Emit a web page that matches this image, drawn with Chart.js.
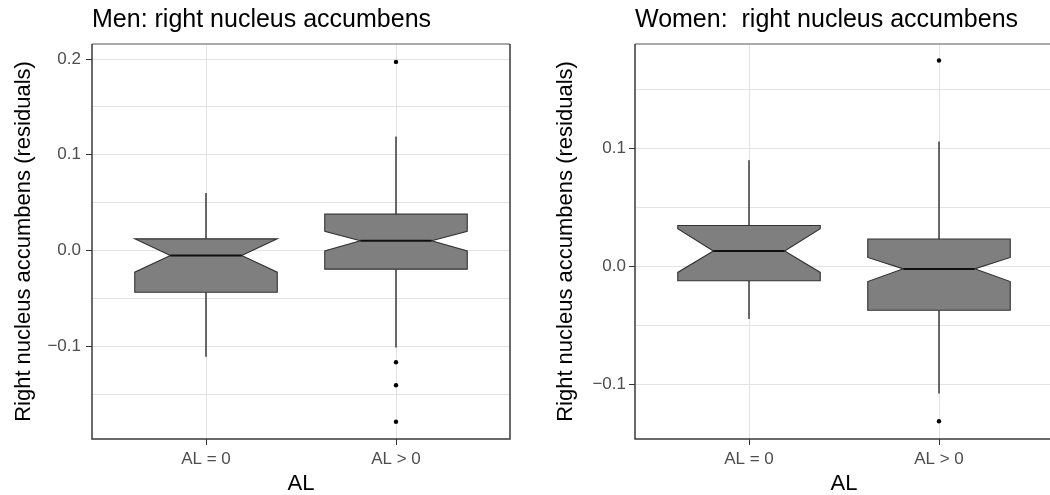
<!DOCTYPE html>
<html>
<head>
<meta charset="utf-8">
<script src="https://cdn.jsdelivr.net/npm/chart.js@4.4.0/dist/chart.umd.min.js"></script>
<style>
    html, body { margin: 0; padding: 0; background: #fff; overflow: hidden; }
    #wrap { position: relative; width: 1050px; height: 495px; overflow: hidden; }
    #chartMen { position: absolute; left: 0; top: 0; }
    #chartWomen { position: absolute; left: 525px; top: 0; }
</style>
</head>
<body>
<div id="wrap">
    <canvas id="chartMen" width="525" height="495"></canvas>
    <canvas id="chartWomen" width="560" height="495"></canvas>
</div>
<script>
const categories = ['AL = 0', 'AL > 0']
const catPos = [1, 2]

// Men
const menWhiskerLow = [-0.1108, -0.1013]
const menQ1 = [-0.0435, -0.0194]
const menNotchLow = [-0.0226, -0.0005]
const menMedian = [-0.0052, 0.0102]
const menNotchHigh = [0.0122, 0.0202]
const menQ3 = [0.0122, 0.0380]
const menWhiskerHigh = [0.0600, 0.1190]
const menOutlierCat = [2, 2, 2, 2]
const menOutliers = [0.197, -0.1167, -0.1406, -0.1788]
const menTicks = [-0.1, 0, 0.1, 0.2]
const menGrid = [-0.15, -0.1, -0.05, 0, 0.05, 0.1, 0.15, 0.2]
const menRange = [-0.1968, 0.2157]

// Women
const womenWhiskerLow = [-0.0444, -0.1075]
const womenQ1 = [-0.0120, -0.0370]
const womenNotchLow = [-0.0050, -0.0127]
const womenMedian = [0.0131, -0.0020]
const womenNotchHigh = [0.0320, 0.0077]
const womenQ3 = [0.0348, 0.0233]
const womenWhiskerHigh = [0.0900, 0.1060]
const womenOutlierCat = [2, 2]
const womenOutliers = [0.1745, -0.1311]
const womenTicks = [-0.1, 0, 0.1]
const womenGrid = [-0.1, -0.05, 0, 0.05, 0.1, 0.15]
const womenRange = [-0.1461, 0.1885]

const boxWidth = 0.75
const notchWidth = 0.5

Chart.defaults.font.family = '"Liberation Sans", Arial, sans-serif'

function isMajor(list, v) {
    return list.some(t => Math.abs(t - v) < 1e-9)
}

function fmt(v) {
    return (v < -1e-9 ? '\u2212' : '') + Math.abs(v).toFixed(1)
}

// notched boxes + whiskers, drawn through the chart scales
const notchedBoxes = {
    id: 'notchedBoxes',
    beforeDatasetsDraw(chart, args, opts) {
        const ctx = chart.ctx
        const x = chart.scales.x
        const y = chart.scales.y
        const s = opts.stats
        ctx.save()
        for (let i = 0; i < catPos.length; i++) {
            let cx = x.getPixelForValue(catPos[i])
            let half = x.getPixelForValue(catPos[i] + boxWidth / 2) - cx
            let left = cx - half
            let right = cx + half
            let indent = half * (1 - notchWidth)
            let yQ1 = y.getPixelForValue(s.q1[i])
            let yQ3 = y.getPixelForValue(s.q3[i])
            let yNL = y.getPixelForValue(s.notchLow[i])
            let yNH = y.getPixelForValue(s.notchHigh[i])
            let yMed = y.getPixelForValue(s.median[i])

            // whiskers
            ctx.strokeStyle = '#2e2e2e'
            ctx.lineWidth = 1.4
            ctx.beginPath()
            ctx.moveTo(cx, yQ3)
            ctx.lineTo(cx, y.getPixelForValue(s.whiskerHigh[i]))
            ctx.moveTo(cx, yQ1)
            ctx.lineTo(cx, y.getPixelForValue(s.whiskerLow[i]))
            ctx.stroke()

            // box
            ctx.beginPath()
            ctx.moveTo(left, yQ3)
            ctx.lineTo(left, yNH)
            ctx.lineTo(left + indent, yMed)
            ctx.lineTo(left, yNL)
            ctx.lineTo(left, yQ1)
            ctx.lineTo(right, yQ1)
            ctx.lineTo(right, yNL)
            ctx.lineTo(right - indent, yMed)
            ctx.lineTo(right, yNH)
            ctx.lineTo(right, yQ3)
            ctx.closePath()
            ctx.fillStyle = '#7f7f7f'
            ctx.fill()
            ctx.lineWidth = 1.1
            ctx.strokeStyle = '#333333'
            ctx.stroke()

            // median
            ctx.beginPath()
            ctx.moveTo(left + indent, yMed)
            ctx.lineTo(right - indent, yMed)
            ctx.lineWidth = 2
            ctx.strokeStyle = '#111111'
            ctx.stroke()
        }
        ctx.restore()
    },
    afterDraw(chart) {
        const {ctx, chartArea: a} = chart
        ctx.save()
        ctx.lineWidth = 1.5
        ctx.strokeStyle = '#8c8c8c'
        ctx.beginPath()
        ctx.moveTo(a.left, a.top)
        ctx.lineTo(a.right, a.top)
        ctx.stroke()
        ctx.strokeStyle = '#3a3a3a'
        ctx.beginPath()
        ctx.moveTo(a.right, a.top)
        ctx.lineTo(a.right, a.bottom)
        ctx.lineTo(a.left, a.bottom)
        ctx.lineTo(a.left, a.top)
        ctx.stroke()
        ctx.restore()
    }
}

function makeChart(id, title, stats, outCat, outVals, ticks, grid, range, opt) {
    var ctx = document.getElementById(id).getContext('2d')
    return new Chart(ctx, {
        type: 'scatter',
        data: {
            datasets: [{
                label: 'outliers',
                data: outVals.map((v, i) => ({x: outCat[i], y: v})),
                backgroundColor: '#000000',
                borderWidth: 0,
                pointRadius: 2.2
            }]
        },
        options: {
            responsive: false,
            animation: false,
            layout: {padding: {left: 0, right: opt.padRight, top: 0, bottom: 0}},
            plugins: {
                legend: {display: false},
                tooltip: {enabled: false},
                title: {
                    display: true,
                    text: title,
                    align: 'start',
                    fullSize: false,
                    color: '#000000',
                    font: {size: 25, weight: 'normal', lineHeight: 1.2},
                    padding: {top: 5, bottom: 9}
                },
                notchedBoxes: {stats: stats}
            },
            scales: {
                x: {
                    type: 'linear',
                    min: 0.4,
                    max: 2.6,
                    afterBuildTicks: scale => { scale.ticks = catPos.map(v => ({value: v})) },
                    afterFit: scale => { scale.height = 56 },
                    ticks: {
                        color: '#4d4d4d',
                        font: {size: 17},
                        padding: 4,
                        maxRotation: 0,
                        callback: v => categories[catPos.indexOf(v)]
                    },
                    grid: {color: '#e3e3e3', tickColor: '#333333', tickLength: 6, lineWidth: 1},
                    border: {display: false},
                    title: {display: true, text: 'AL', color: '#000000', font: {size: 22, lineHeight: 1}, padding: {top: 0, bottom: 0}}
                },
                y: {
                    type: 'linear',
                    min: range[0],
                    max: range[1],
                    afterBuildTicks: scale => { scale.ticks = grid.map(v => ({value: v})) },
                    afterFit: scale => { scale.width = opt.axisWidth },
                    ticks: {
                        color: '#4d4d4d',
                        font: {size: 17},
                        padding: opt.tickPad,
                        callback: v => isMajor(ticks, v) ? fmt(v) : ''
                    },
                    grid: {
                        color: '#e3e3e3',
                        lineWidth: 1,
                        tickLength: 6,
                        tickColor: c => (c.tick && isMajor(ticks, c.tick.value)) ? '#333333' : 'rgba(0,0,0,0)'
                    },
                    border: {display: false},
                    title: {
                        display: true,
                        text: 'Right nucleus accumbens (residuals)',
                        color: '#000000',
                        font: {size: 22},
                        padding: {top: opt.titlePad, bottom: 0}
                    }
                }
            }
        },
        plugins: [notchedBoxes]
    })
}

// Men
makeChart('chartMen', 'Men: right nucleus accumbens', {
    whiskerLow: menWhiskerLow, q1: menQ1, notchLow: menNotchLow, median: menMedian,
    notchHigh: menNotchHigh, q3: menQ3, whiskerHigh: menWhiskerHigh
}, menOutlierCat, menOutliers, menTicks, menGrid, menRange, {padRight: 15, axisWidth: 92, tickPad: 5, titlePad: 11})

// Women
makeChart('chartWomen', 'Women:  right nucleus accumbens', {
    whiskerLow: womenWhiskerLow, q1: womenQ1, notchLow: womenNotchLow, median: womenMedian,
    notchHigh: womenNotchHigh, q3: womenQ3, whiskerHigh: womenWhiskerHigh
}, womenOutlierCat, womenOutliers, womenTicks, womenGrid, womenRange, {padRight: 32, axisWidth: 110, tickPad: 3, titlePad: 28})
</script>
</body>
</html>
